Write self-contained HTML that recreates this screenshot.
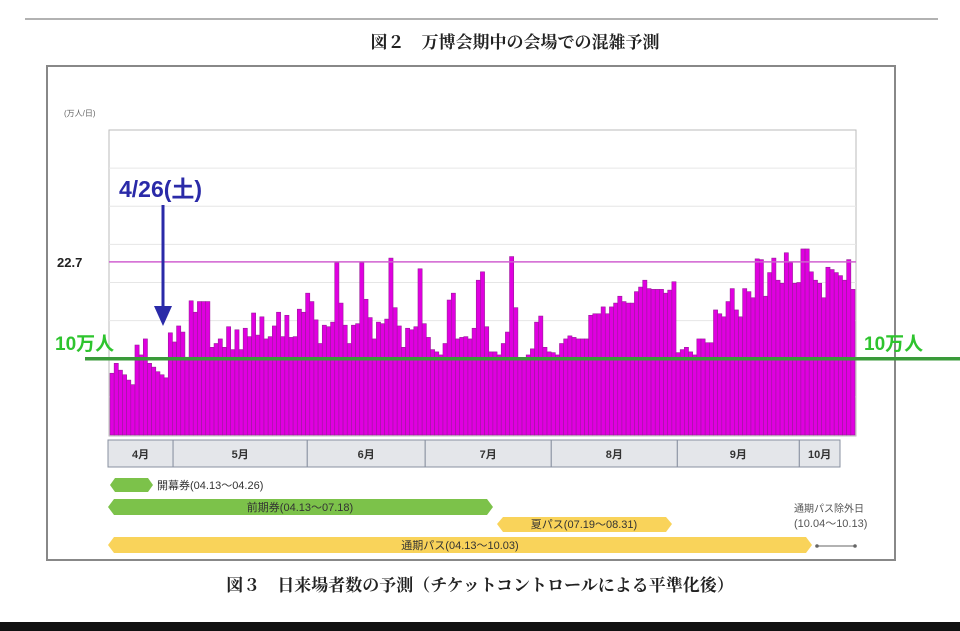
<!DOCTYPE html>
<html><head><meta charset="utf-8">
<style>
body{margin:0;width:960px;height:631px;background:#fff;overflow:hidden;font-family:"Liberation Sans","Noto Sans CJK JP",sans-serif}
svg{display:block}
</style></head>
<body>
<svg id="chart" width="960" height="631" viewBox="0 0 960 631" xmlns="http://www.w3.org/2000/svg" font-family="Liberation Sans, Noto Sans CJK JP, sans-serif">
<line x1="25" y1="19" x2="938" y2="19" stroke="#999" stroke-width="1.5"/>
<text x="515" y="48" text-anchor="middle" font-size="17" font-weight="bold" fill="#222" font-family="Noto Serif CJK SC, Noto Sans CJK JP, serif">図２　万博会期中の会場での混雑予測</text>
<rect x="47" y="66" width="848" height="494" fill="none" stroke="#888" stroke-width="2"/>
<text x="64" y="116" font-size="8" fill="#666">(万人/日)</text>
<rect x="109" y="130" width="747" height="306" fill="#fff" stroke="#bbb" stroke-width="1"/>
<g id="grid"></g>
<g id="bars"></g>
<line id="refline" x1="109" x2="856" stroke="#d060d0" stroke-width="1.5"/>
<text id="reflabel" x="57" font-size="13" font-weight="bold" fill="#222">22.7</text>
<line id="tenline" x1="85" x2="960" stroke="#3a9a3a" stroke-width="3.5"/>
<text x="55" y="350" font-size="19" font-weight="bold" fill="#2ec42e">10万人</text>
<text x="864" y="350" font-size="19" font-weight="bold" fill="#2ec42e">10万人</text>
<text x="119" y="197" font-size="23" font-weight="bold" fill="#2a2aa8">4/26(土)</text>
<line x1="163" y1="205" x2="163" y2="310" stroke="#2a2aa8" stroke-width="3"/>
<polygon points="154,306 172,306 163,326" fill="#2a2aa8"/>
<g id="months"></g>
<g font-size="11" fill="#333">
<polygon points="110,485 115,478 148,478 153,485 148,492 115,492" fill="#7cc24a"/>
<text x="157" y="489">開幕券(04.13～04.26)</text>
<polygon points="108,507 114,499 487,499 493,507 487,515 114,515" fill="#7cc24a"/>
<text x="300" y="511" text-anchor="middle">前期券(04.13～07.18)</text>
<polygon points="497,524 503,517 666,517 672,524 666,532 503,532" fill="#f9d35a"/>
<text x="584" y="528" text-anchor="middle">夏パス(07.19～08.31)</text>
<polygon points="108,545 114,537 806,537 812,545 806,553 114,553" fill="#f9d35a"/>
<text x="460" y="549" text-anchor="middle">通期パス(04.13～10.03)</text>
<text x="794" y="512" font-size="10" fill="#555">通期パス除外日</text>
<text x="794" y="527" font-size="11" fill="#555">(10.04～10.13)</text>
<line x1="817" y1="546" x2="855" y2="546" stroke="#666" stroke-width="1"/>
<circle cx="817" cy="546" r="1.8" fill="#666"/>
<circle cx="855" cy="546" r="1.8" fill="#666"/>
</g>
<text x="480" y="591" text-anchor="middle" font-size="17" font-weight="bold" fill="#222" font-family="Noto Serif CJK SC, Noto Sans CJK JP, serif">図３　日来場者数の予測（チケットコントロールによる平準化後）</text>
<rect x="0" y="622" width="960" height="9" fill="#111"/>
</svg>
<script>
const visitors = [8.1,9.4,8.5,7.9,7.2,6.6,11.8,10.5,12.6,9.4,8.9,8.3,7.9,7.5,13.4,12.2,14.3,13.5,10.2,17.6,16.1,17.5,17.5,17.5,11.5,12,12.6,11.5,14.2,11.2,13.8,11.2,14,12.9,16,13.1,15.5,12.6,12.9,14.3,16.1,12.9,15.7,12.8,12.9,16.5,16.1,18.6,17.5,15.1,12,14.4,14.2,14.8,22.6,17.3,14.4,12,14.4,14.6,
22.6,17.8,15.4,12.6,14.8,14.6,15.2,23.2,16.7,14.3,11.5,14,13.8,14.2,21.8,14.6,12.8,11.2,10.9,10.5,12,17.7,18.6,12.6,12.8,12.9,12.6,14,20.3,21.4,14.2,10.9,10.9,10.5,12,13.5,23.4,16.7,10.1,10,10.5,11.3,14.8,15.6,11.5,10.9,10.8,10.5,12,12.6,13,12.8,12.6,12.6,12.6,15.7,15.9,15.9,16.8,15.9,
16.8,17.3,18.2,17.5,17.3,17.3,18.8,19.4,20.3,19.2,19.1,19.1,19.1,18.6,19,20.1,10.8,11.2,11.5,10.9,10.5,12.6,12.6,12.1,12.1,16.4,15.9,15.5,17.5,19.2,16.4,15.5,19.2,18.8,18,23.1,23,18.2,21.3,23.2,20.3,19.9,23.9,22.6,19.9,20,24.4,24.4,21.4,20.3,19.9,18,22,21.7,21.3,20.9,20.3,23,19.1];
const gridTicks = [5,10,15,20,25,30,35];
const refValue = 22.7;
const tenValue = 10;
const monthLabels = ["4月","5月","6月","7月","8月","9月","10月"];
const monthDays = [16,33,29,31,31,30,10];

const NS="http://www.w3.org/2000/svg";
const X0=110,X1=855,Y0=435,YMAX=40,YTOP=130;
const y=v=>Y0-(v/YMAX)*(Y0-YTOP);
const bw=(X1-X0)/visitors.length;
const x=i=>X0+i*bw;
function mk(tag,attrs,parent){const e=document.createElementNS(NS,tag);for(const k in attrs)e.setAttribute(k,attrs[k]);parent.appendChild(e);return e;}
const grid=document.getElementById('grid');
gridTicks.forEach(t=>{
  const l=mk('line',{x1:109,x2:856,y1:y(t),y2:y(t),stroke:'#e6e6e6','stroke-width':1},grid);
  
  
});
const bars=document.getElementById('bars');
visitors.forEach((v,i)=>{
  const r=mk('rect',{x:x(i),y:y(v),width:bw,height:Y0-y(v),fill:'#e000e0',stroke:'#9a1a9a','stroke-width':0.6},bars);
  
  
});
const rl=document.getElementById('refline');rl.setAttribute('y1',y(refValue));rl.setAttribute('y2',y(refValue));
document.getElementById('reflabel').setAttribute('y',y(refValue)+5);
const tl=document.getElementById('tenline');tl.setAttribute('y1',y(tenValue));tl.setAttribute('y2',y(tenValue));
const months=document.getElementById('months');
const totalDays=monthDays.reduce((a,b)=>a+b,0);
const MX0=108,MX1=840;
let acc=0;
monthLabels.forEach((m,i)=>{
  const a=MX0+acc/totalDays*(MX1-MX0);acc+=monthDays[i];
  const b=MX0+acc/totalDays*(MX1-MX0);
  const r=mk('rect',{x:a,y:440,width:b-a,height:27,fill:'#e4e6ea',stroke:'#8890a0','stroke-width':1},months);
  
  
  const t=mk('text',{x:(a+b)/2,y:458,'text-anchor':'middle','font-size':11,'font-weight':'bold',fill:'#333'},months);
  t.textContent=m;
  
  
});
</script>
</body></html>
